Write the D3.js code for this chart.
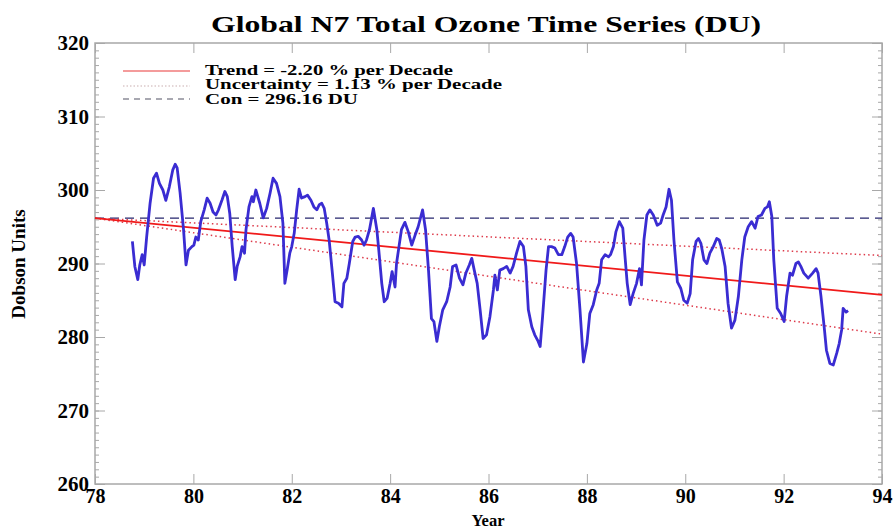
<!DOCTYPE html>
<html>
<head>
<meta charset="utf-8">
<script src="https://cdn.jsdelivr.net/npm/d3@7"></script>
<style>
  body { margin: 0; background: #fff; }
  svg text { font-family: "Liberation Serif", "DejaVu Serif", serif; font-weight: bold; fill: #000; }
</style>
</head>
<body>
<svg id="chart" width="896" height="530"></svg>
<script>
// ozone series
const years = [
  78.76,78.81,78.87,78.91,78.96,79.00,79.05,79.12,79.19,79.25,79.31,79.38,79.44,79.51,79.58,79.63,79.67,79.73,79.80,79.85,
  79.90,79.97,80.01,80.05,80.10,80.15,80.22,80.28,80.34,80.40,80.46,80.51,80.58,80.64,80.69,80.74,80.79,80.85,80.89,80.95,
  80.99,81.04,81.07,81.13,81.19,81.22,81.27,81.31,81.35,81.42,81.49,81.56,81.62,81.69,81.76,81.82,81.86,
  81.91,81.96,82.00,82.05,82.10,82.15,82.20,82.27,82.32,82.39,82.45,82.51,82.56,82.61,82.66,82.71,82.76,82.82,82.88,82.95,
  83.02,83.06,83.12,83.17,83.24,83.29,83.35,83.42,83.47,83.52,83.58,83.66,83.73,83.77,83.83,83.88,83.94,84.00,84.04,84.10,
  84.13,84.18,84.23,84.30,84.37,84.44,84.51,84.57,84.66,84.72,84.78,84.84,84.89,84.95,85.00,85.07,85.15,85.22,
  85.27,85.34,85.41,85.48,85.54,85.61,85.66,85.71,85.77,85.83,85.89,85.96,86.03,86.10,86.13,86.18,86.23,86.30,86.37,86.44,
  86.50,86.57,86.64,86.71,86.76,86.81,86.88,86.94,87.01,87.05,87.10,87.17,87.22,87.28,87.35,87.42,87.49,87.55,87.61,87.67,
  87.72,87.79,87.86,87.93,88.00,88.06,88.13,88.20,88.25,88.30,88.37,88.44,
  88.48,88.54,88.59,88.66,88.73,88.77,88.82,88.88,88.94,89.01,89.07,89.11,89.16,89.22,89.28,89.35,89.43,89.50,89.55,89.61,
  89.67,89.72,89.77,89.84,89.91,89.97,90.04,90.10,90.15,90.22,90.27,90.32,90.38,90.44,90.50,90.57,90.64,90.69,90.74,90.81,
  90.87,90.94,91.01,91.08,91.15,91.21,91.28,91.35,91.42,91.48,91.55,91.62,
  91.67,91.71,91.76,91.80,91.87,91.94,92.01,92.06,92.13,92.18,92.25,92.30,92.35,92.41,92.50,92.59,92.66,92.70,92.76,92.83,
  92.87,92.94,93.01,93.08,93.13,93.18,93.21,93.27,93.31
];
const ozone = [
  293.0,289.6,287.8,289.8,291.2,289.8,293.6,298.2,301.6,302.3,300.9,300.0,298.6,300.4,302.7,303.5,303.0,299.6,294.6,289.8,
  291.8,292.3,292.5,293.6,293.2,295.7,297.3,298.9,298.2,297.0,296.6,297.3,298.6,299.8,299.1,296.8,292.3,287.8,289.6,290.9,
  292.3,291.4,294.6,297.7,299.1,298.4,300.0,299.1,298.2,296.2,297.5,299.6,301.6,300.9,299.1,295.5,287.3,
  289.3,291.4,292.3,294.1,297.3,300.1,298.9,299.1,299.3,298.6,297.7,297.3,298.0,298.2,297.5,295.5,293.2,289.1,284.8,284.6,
  284.1,287.3,288.0,290.0,293.0,293.6,293.7,293.2,292.5,293.2,294.6,297.5,294.6,291.8,287.3,284.8,285.3,287.3,288.9,286.8,
  290.0,292.3,294.6,295.6,294.3,292.5,293.9,295.0,297.3,294.6,289.1,282.5,282.1,279.4,281.4,283.7,284.8,286.8,
  289.6,289.8,288.0,287.1,288.7,289.8,290.7,289.1,287.3,283.7,279.8,280.3,282.8,286.4,288.4,286.4,289.1,289.3,289.6,288.7,
  289.6,291.4,293.0,292.3,289.6,283.7,281.4,280.3,279.4,278.7,282.8,289.1,292.3,292.3,292.1,291.2,291.2,292.3,293.6,294.1,
  293.6,290.0,283.7,276.6,279.1,283.2,284.4,286.4,287.3,290.5,291.2,290.9,
  291.2,292.3,294.3,295.7,294.8,291.4,287.3,284.4,285.9,287.3,289.3,287.1,293.2,296.6,297.3,296.6,295.2,295.5,296.6,297.7,
  300.1,298.6,293.2,287.5,286.6,285.0,284.6,285.9,290.5,293.0,293.4,292.7,290.5,290.0,291.4,292.3,293.4,293.2,292.1,289.6,
  284.6,281.2,282.3,285.5,290.5,293.6,295.0,295.7,294.8,296.4,296.6,297.5,
  297.7,298.4,296.4,290.5,283.9,283.2,282.1,285.5,288.7,288.4,290.0,290.2,289.6,288.7,288.0,288.7,289.3,288.7,285.5,281.0,
  278.2,276.4,276.2,277.8,279.1,281.0,283.9,283.4,283.6
];

// fitted lines (end points)
const fitYears = [78, 94];
const trendVals = [296.16, 285.74];
const upperVals = [296.16, 291.09];
const lowerVals = [296.16, 280.39];
const conVal = 296.16;

const xTicks = [78, 80, 82, 84, 86, 88, 90, 92, 94];
const yTicks = [260, 270, 280, 290, 300, 310, 320];
const yMinor = d3.range(260, 321, 1);

const legendLabels = ["Trend = -2.20 % per Decade", "Uncertainty = 1.13 % per Decade", "Con = 296.16 DU"];
const titleText = "Global N7 Total Ozone Time Series (DU)";

const svg = d3.select("#chart");
const mLeft = 95, mRight = 882, mTop = 43, mBottom = 484;

const x = d3.scaleLinear().domain([78, 94]).range([mLeft, mRight]);
const y = d3.scaleLinear().domain([260, 320]).range([mBottom, mTop]);

// frame
svg.append("rect")
  .attr("x", mLeft).attr("y", mTop)
  .attr("width", mRight - mLeft).attr("height", mBottom - mTop)
  .attr("fill", "none").attr("stroke", "#a8a8a8").attr("stroke-width", 1.5);

function styleAxis(g) {
  g.select(".domain").remove();
  g.selectAll(".tick line").attr("stroke", "#a8a8a8").attr("stroke-width", 1);
  g.selectAll(".tick text").style("font-size", "21px");
}

svg.append("g").attr("transform", "translate(0," + mBottom + ")")
  .call(d3.axisBottom(x).tickValues(xTicks).tickSize(-10).tickPadding(5).tickFormat(d3.format("d")))
  .call(styleAxis)
  .call(g => g.selectAll(".tick text").style("font-size", "20px"));
svg.append("g").attr("transform", "translate(0," + mTop + ")")
  .call(d3.axisTop(x).tickValues(xTicks).tickSize(-10).tickFormat(""))
  .call(styleAxis);
svg.append("g").attr("transform", "translate(" + mLeft + ",0)")
  .call(d3.axisLeft(y).tickValues(yMinor).tickSize(-4).tickFormat(""))
  .call(styleAxis);
svg.append("g").attr("transform", "translate(" + mLeft + ",0)")
  .call(d3.axisLeft(y).tickValues(yTicks).tickSize(-10).tickPadding(6).tickFormat(d3.format("d")))
  .call(styleAxis);
svg.append("g").attr("transform", "translate(" + mRight + ",0)")
  .call(d3.axisRight(y).tickValues(yMinor).tickSize(-4).tickFormat(""))
  .call(styleAxis);
svg.append("g").attr("transform", "translate(" + mRight + ",0)")
  .call(d3.axisRight(y).tickValues(yTicks).tickSize(-10).tickFormat(""))
  .call(styleAxis);

const fitLine = vals => d3.line()
  .x((d, i) => x(fitYears[i]))
  .y((d, i) => y(vals[i]))(vals);

// constant
svg.append("path")
  .attr("d", d3.line()([[x(78), y(conVal)], [x(94), y(conVal)]]))
  .attr("stroke", "#26266e").attr("stroke-width", 1.3)
  .attr("stroke-dasharray", "9,6").attr("fill", "none");

// uncertainty
[upperVals, lowerVals].forEach(v => {
  svg.append("path").attr("d", fitLine(v))
    .attr("stroke", "#dd3a4a").attr("stroke-width", 1.5)
    .attr("stroke-dasharray", "1.5,3").attr("fill", "none");
});

// trend
svg.append("path").attr("d", fitLine(trendVals))
  .attr("stroke", "#f01a1a").attr("stroke-width", 1.8).attr("fill", "none");

// data
const series = years.map((d, i) => [d, ozone[i]]);
svg.append("path")
  .datum(series)
  .attr("d", d3.line().x(d => x(d[0])).y(d => y(d[1])))
  .attr("stroke", "#3a2cd2").attr("stroke-width", 2.8)
  .attr("stroke-linejoin", "round").attr("fill", "none");

// legend
const legY = [71, 86, 99];
const legStyle = [
  { stroke: "#f07a7a", dash: null, w: 1.3 },
  { stroke: "#c9aeb0", dash: "1.5,2", w: 1.2 },
  { stroke: "#8c8c98", dash: "6,5", w: 1.3 }
];
const legBase = [74.5, 89, 103.5];
const legWidths = [248, 297, 153];
legendLabels.forEach((t, i) => {
  svg.append("line")
    .attr("x1", 123).attr("x2", 190)
    .attr("y1", legY[i]).attr("y2", legY[i])
    .attr("stroke", legStyle[i].stroke).attr("stroke-width", legStyle[i].w)
    .attr("stroke-dasharray", legStyle[i].dash);
  svg.append("text")
    .attr("x", 205).attr("y", legBase[i])
    .attr("textLength", legWidths[i]).attr("lengthAdjust", "spacingAndGlyphs")
    .style("font-size", "14px")
    .text(t);
});

// title and axis labels
svg.append("text")
  .attr("x", 486).attr("y", 32)
  .attr("text-anchor", "middle")
  .attr("textLength", 550).attr("lengthAdjust", "spacingAndGlyphs")
  .style("font-size", "23px")
  .text(titleText);

svg.append("text")
  .attr("x", 488).attr("y", 526.3)
  .attr("text-anchor", "middle")
  .style("font-size", "16.5px")
  .text("Year");

svg.append("text")
  .attr("transform", "translate(25,264) rotate(-90)")
  .attr("text-anchor", "middle")
  .style("font-size", "19px")
  .text("Dobson Units");
</script>
</body>
</html>
